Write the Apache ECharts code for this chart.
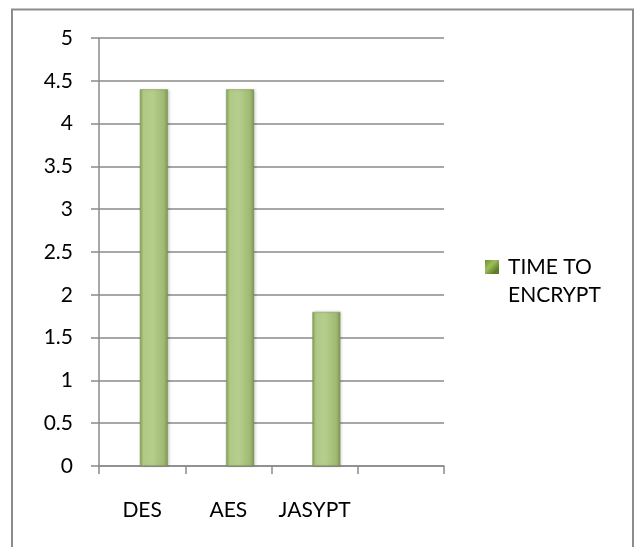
<!DOCTYPE html>
<html>
<head>
<meta charset="utf-8">
<script src="https://cdn.jsdelivr.net/npm/echarts@6/dist/echarts.min.js"></script>
<style>
  html, body { margin: 0; padding: 0; background: #fff; }
  #chart { width: 643px; height: 547px; }
</style>
</head>
<body>
<div id="chart"></div>
<script>
// Encryption timing data
const categories = ['DES', 'AES', 'JASYPT', ''];
const encryptTimes = [4.4, 4.4, 1.8, null];
const seriesName = 'TIME TO ENCRYPT';
const yTicks = { min: 0, max: 5, interval: 0.5 };

const FONT = 'Lato, "Open Sans", sans-serif';
const GRID_COLOR = '#8a8a8a';

const barFill = new echarts.graphic.LinearGradient(0, 0, 1, 0, [
  { offset: 0, color: '#86a058' },
  { offset: 0.12, color: '#afc985' },
  { offset: 0.45, color: '#b6ce8c' },
  { offset: 0.85, color: '#a0ba73' },
  { offset: 1, color: '#7e9654' }
]);

// legend swatch: square sitting level with the first text line, with a little room before the text
const legendIcon = 'path://M0,0L14,0L14,14L0,14Z M0,42L18,42';
const legendFill = new echarts.graphic.LinearGradient(0, 0, 0.78, 0.33, [
  { offset: 0, color: '#6f8f38' },
  { offset: 0.4, color: '#9cbf58' },
  { offset: 0.78, color: '#5e7d29' },
  { offset: 1, color: '#5e7d29' }
]);

const chart = echarts.init(document.getElementById('chart'), null, { renderer: 'canvas' });

chart.setOption({
  animation: false,
  backgroundColor: '#ffffff',
  graphic: [{
    type: 'rect',
    shape: { x: 12, y: 9.5, width: 621, height: 560 },
    style: { fill: 'none', stroke: '#8c8c8c', lineWidth: 2 },
    silent: true
  }],
  grid: { left: 99, right: 199, top: 38, bottom: 81, containLabel: false },
  legend: {
    data: [{ name: seriesName, icon: legendIcon, itemStyle: { color: legendFill, borderWidth: 0 } }],
    orient: 'vertical',
    left: 485,
    top: 253,
    padding: 0,
    itemWidth: 18,
    itemHeight: 42,
    itemGap: 8,
    textStyle: {
      fontFamily: FONT,
      fontSize: 21,
      color: '#000',
      width: 100,
      overflow: 'break',
      lineHeight: 28
    }
  },
  xAxis: {
    type: 'category',
    data: categories,
    boundaryGap: true,
    axisLine: { show: true, lineStyle: { color: GRID_COLOR, width: 1.5 } },
    axisTick: { show: true, length: 8, interval: 0, alignWithLabel: false, lineStyle: { color: GRID_COLOR, width: 1.5 } },
    axisLabel: { interval: 0, fontFamily: FONT, fontSize: 21, color: '#000', margin: 34 },
    splitLine: { show: false }
  },
  yAxis: {
    type: 'value',
    min: yTicks.min,
    max: yTicks.max,
    interval: yTicks.interval,
    axisLine: { show: true, lineStyle: { color: GRID_COLOR, width: 1.5 } },
    axisTick: { show: true, length: 8, lineStyle: { color: GRID_COLOR, width: 1.5 } },
    axisLabel: { fontFamily: FONT, fontSize: 21, color: '#000', margin: 26 },
    splitLine: { show: true, lineStyle: { color: GRID_COLOR, width: 1.5 } }
  },
  series: [
    {
      // empty companion series that shifts the visible bars right within each slot
      name: 'spacer',
      type: 'bar',
      data: categories.map(() => null),
      barWidth: 28,
      barGap: '-16%',
      itemStyle: { color: 'transparent' },
      silent: true
    },
    {
      name: seriesName,
      type: 'bar',
      data: encryptTimes,
      barWidth: 28,
      barGap: '-16%',
      itemStyle: {
        color: barFill,
        borderColor: '#7d9553',
        borderWidth: 0.5,
        shadowColor: 'rgba(0,0,0,0.18)',
        shadowBlur: 3,
        shadowOffsetX: 1
      }
    }
  ]
});
</script>
</body>
</html>
